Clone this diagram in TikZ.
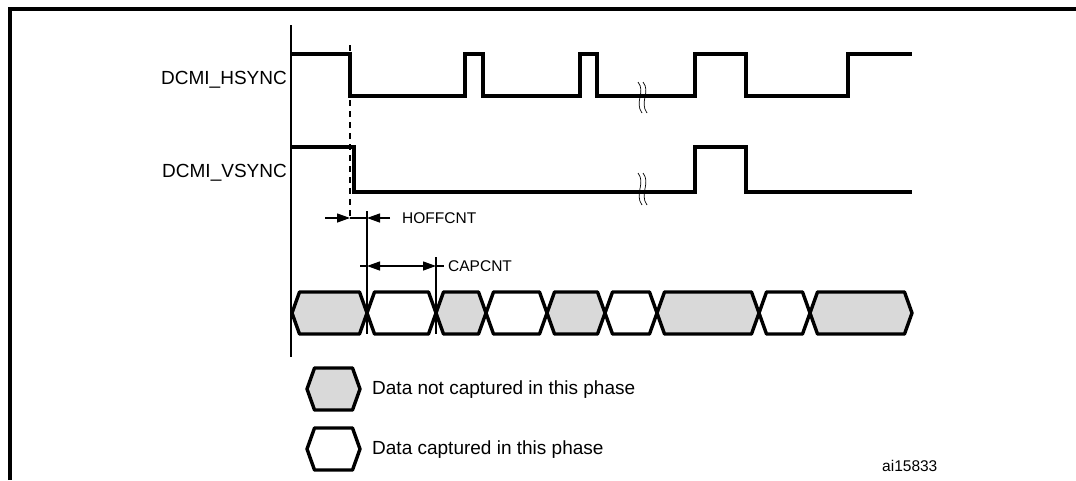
\documentclass[tikz,border=0pt]{standalone}
\usepackage{fontspec}
\setmainfont{Liberation Sans}
\usetikzlibrary{arrows.meta}
\definecolor{Shade}{HTML}{D9D9D9}
\tikzset{
    wave/.style={line width=3.6pt, line join=miter},
    thinline/.style={line width=1.3pt},
    cellbox/.style={line width=3.4pt, line join=round},
    dimarrow/.style={-{Triangle[length=13pt,width=9pt]}, line width=1.3pt},
    siglabel/.style={anchor=base east, font=\fontsize{19}{22}\selectfont, inner sep=0pt},
    keylabel/.style={anchor=base west, font=\fontsize{19}{22}\selectfont, inner sep=0pt},
    smalllabel/.style={anchor=base west, font=\fontsize{15.5}{18}\selectfont, inner sep=0pt},
    breakmark/.style={line width=0.7pt},
}
\newcommand{\hexcell}[5]{% x-left, x-right, y-top, y-bottom, fill
    \filldraw[cellbox, fill=#5] (#1,{(#3+#4)/2}) -- (#1+7.5,#3) -- (#2-7.5,#3)
        -- (#2,{(#3+#4)/2}) -- (#2-7.5,#4) -- (#1+7.5,#4) -- cycle;}
\begin{document}
\begin{tikzpicture}[x=1pt, y=-1pt]
    \useasboundingbox (0,0) rectangle (1076,480);

    % Rahmen
    \draw[line width=3.6pt] (10,480) -- (10,9) -- (1076,9);

    % Zeitachse
    \draw[thinline] (291,25) -- (291,357);

    % Signalnamen
    \node[siglabel] (hsync) at (287,84) {DCMI\_HSYNC};
    \node[siglabel] (vsync) at (287,177) {DCMI\_VSYNC};

    % HSYNC
    \draw[wave] (291,54) -- (350,54) -- (350,96) -- (465,96) -- (465,54) -- (483,54)
        -- (483,96) -- (580,96) -- (580,54) -- (597,54) -- (597,96) -- (695,96)
        -- (695,54) -- (746,54) -- (746,96) -- (848,96) -- (848,54) -- (912,54);

    % VSYNC
    \draw[wave] (291,147) -- (354,147) -- (354,192) -- (695,192) -- (695,147)
        -- (746,147) -- (746,192) -- (912,192);

    % Unterbrechungen
    \foreach \dx in {0,5} {
        \draw[breakmark] (638+\dx,82) .. controls (646+\dx,92) and (634+\dx,102) .. (642+\dx,113);
        \draw[breakmark] (638+\dx,173) .. controls (646+\dx,183) and (634+\dx,194) .. (642+\dx,205);
    }

    % Hilfslinien
    \draw[thinline, dash pattern=on 6pt off 5pt] (350,45) -- (350,217);
    \draw[thinline] (367,211) -- (367,334);
    \draw[thinline] (436,257) -- (436,334);

    % HOFFCNT
    \coordinate (hoffA) at (325,218);
    \coordinate (hoffB) at (350,218);
    \coordinate (hoffC) at (367,218);
    \coordinate (hoffD) at (390,218);
    \draw[dimarrow] (hoffA) -- (hoffB);
    \draw[thinline] (hoffB) -- (hoffC);
    \draw[dimarrow] (hoffD) -- (hoffC);
    \node[smalllabel] (hoff) at (402,223) {HOFFCNT};

    % CAPCNT
    \coordinate (capA) at (360,266);
    \coordinate (capB) at (367,266);
    \coordinate (capC) at (436,266);
    \coordinate (capD) at (444,266);
    \draw[thinline] (capA) -- (capB);
    \draw[dimarrow, {Triangle[length=13pt,width=9pt]}-{Triangle[length=13pt,width=9pt]}] (capB) -- (capC);
    \draw[thinline] (capC) -- (capD);
    \node[smalllabel] (cap) at (448,271) {CAPCNT};

    % Datenbus
    \foreach \xa/\xb/\col in {292/367/Shade, 367/436/white, 436/486/Shade, 486/547/white,
        547/605/Shade, 605/657/white, 657/759/Shade, 759/810/white, 810/912/Shade} {
        \hexcell{\xa}{\xb}{292}{334}{\col}
    }

    % Legende
    \hexcell{307}{360}{368}{410}{Shade}
    \hexcell{307}{360}{428}{470}{white}
    \node[keylabel] (notcap) at (372,394) {Data not captured in this phase};
    \node[keylabel] (iscap) at (372,454) {Data captured in this phase};

    \node[smalllabel] (figid) at (882,471) {ai15833};
\end{tikzpicture}
\end{document}
